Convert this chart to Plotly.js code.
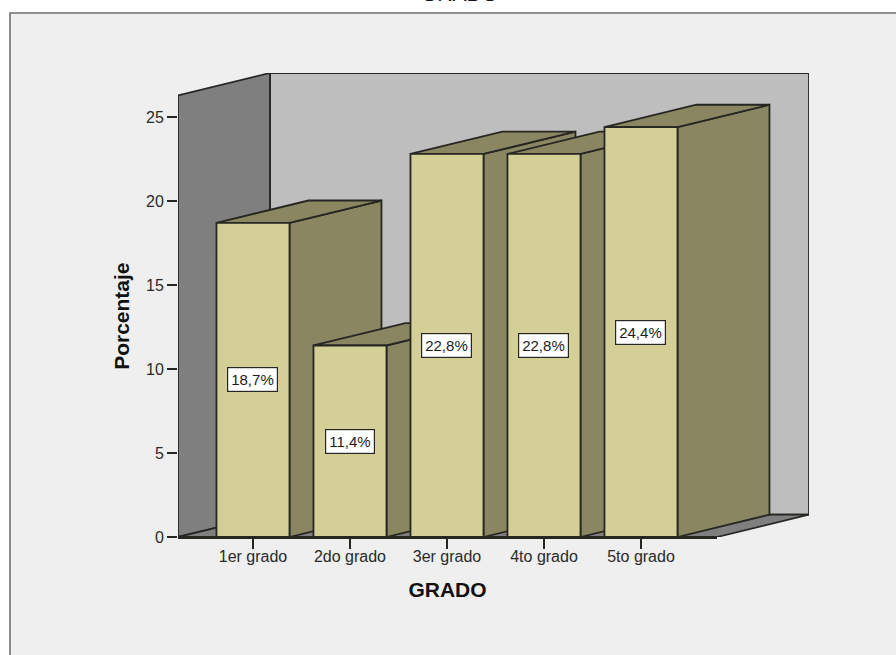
<!DOCTYPE html>
<html>
<head>
<meta charset="utf-8">
<script src="https://cdn.plot.ly/plotly-3.0.1.min.js"></script>
<style>html,body{margin:0;padding:0;background:#fff;overflow:hidden}</style>
</head>
<body>
<div id="chart" style="width:896px;height:655px"></div>
<script>
// Share of students per school grade
const grades = ['1er grado', '2do grado', '3er grado', '4to grado', '5to grado'];
const percentages = [18.7, 11.4, 22.8, 22.8, 24.4];
const yTicks = [0, 5, 10, 15, 20, 25];

// Oblique projection of the box, in axis units of the front plane
const xRange = [-0.773, 4.784];
const yRange = [0, 26.29];
const barWidth = 0.753;
const depthX = 0.948;
const depthY = 1.33;

const FRONT = '#D3CF97', SIDE = '#8A8661', WALL = '#BEBEBE', DARKWALL = '#7F7F7F', EDGE = '#262622';
const FONT = 'Liberation Sans, Arial, sans-serif';
const positions = grades.map((_, i) => i);

function face(xs, ys, fill) {
  return {
    type: 'scatter', mode: 'lines', x: xs.concat(xs[0]), y: ys.concat(ys[0]),
    fill: 'toself', fillcolor: fill, line: {color: EDGE, width: 1.8},
    cliponaxis: false, hoverinfo: 'skip', showlegend: false, xaxis: 'x', yaxis: 'y'
  };
}

const [xLow, xHigh] = xRange;
const wallTop = yRange[1];
const traces = [
  // back wall, left wall and floor
  face([xLow + depthX, xHigh + depthX, xHigh + depthX, xLow + depthX], [depthY, depthY, wallTop + depthY, wallTop + depthY], WALL),
  face([xLow, xLow + depthX, xLow + depthX, xLow], [0, depthY, wallTop + depthY, wallTop], DARKWALL),
  face([xLow, xHigh, xHigh + depthX, xLow + depthX], [0, 0, depthY, depthY], DARKWALL)
];

// Side and top of each bar, painted from left to right
positions.forEach((p, i) => {
  const l = p - barWidth / 2, r = p + barWidth / 2, v = percentages[i];
  traces.push(face([r, r + depthX, r + depthX, r], [0, depthY, v + depthY, v], SIDE));
  traces.push(face([l, l + depthX, r + depthX, r], [v, v + depthY, v + depthY, v], SIDE));
});

// Front faces live on a second subplot, painted after the box and bar sides
traces.push({
  type: 'bar', x: positions, y: percentages, width: barWidth,
  marker: {color: FRONT, line: {color: EDGE, width: 1.8}},
  hoverinfo: 'skip', showlegend: false, xaxis: 'x2', yaxis: 'y2'
});

const plotW = 631, plotH = 464;
const px = v => (v - 178) / plotW, py = v => (537 - v) / plotH;
const tickStyle = {ticks: 'outside', ticklen: 10, tickwidth: 1.6, tickcolor: EDGE, showgrid: false, zeroline: false};
const tickFont = {family: FONT, size: 16, color: '#2a2a2a'};
const titleFont = {family: FONT, size: 21, color: '#111', weight: 'bold'};

const layout = {
  width: 896, height: 655,
  margin: {l: 178, r: 87, t: 73, b: 118},
  paper_bgcolor: '#FFFFFF', plot_bgcolor: 'rgba(0,0,0,0)',
  title: {text: 'GRADO', font: {family: FONT, size: 21, color: '#111'}, x: 459.5 / 896, xanchor: 'center', yref: 'container', y: 0.998, yanchor: 'bottom'},
  // the full box, walls included
  xaxis: {domain: [0, 1], range: [xLow, xHigh + depthX], visible: false, anchor: 'y'},
  yaxis: {domain: [0, 1], range: [0, wallTop + depthY], visible: false, anchor: 'x'},
  // the front plane, carrying the visible axes
  xaxis2: Object.assign({
    domain: [0, (xHigh - xLow) / (xHigh - xLow + depthX)], anchor: 'y2', range: xRange,
    tickmode: 'array', tickvals: positions, ticktext: grades,
    showline: true, linecolor: EDGE, linewidth: 1.8, tickfont: tickFont, ticklabelstandoff: -6,
    title: {text: 'GRADO', standoff: 18, font: titleFont}
  }, tickStyle),
  yaxis2: Object.assign({
    domain: [0, wallTop / (wallTop + depthY)], anchor: 'x2', range: yRange, tickmode: 'array', tickvals: yTicks,
    showline: false, tickfont: tickFont,
    title: {text: 'Porcentaje', standoff: 10, font: titleFont}
  }, tickStyle),
  shapes: [{
    type: 'rect', layer: 'below', xref: 'paper', yref: 'paper',
    x0: px(10), x1: px(1100), y0: py(900), y1: py(13),
    fillcolor: '#EFEFEF', line: {color: '#707070', width: 1.6}
  }],
  annotations: positions.map((p, i) => ({
    x: p, y: percentages[i] / 2, xref: 'x2', yref: 'y2', showarrow: false,
    text: percentages[i].toFixed(1).replace('.', ',') + '%',
    bgcolor: '#FFFFFF', bordercolor: EDGE, borderwidth: 1.2, borderpad: 3,
    font: {family: FONT, size: 15, color: '#1c1c1c'}
  }))
};

Plotly.newPlot('chart', traces, layout, {displayModeBar: false, staticPlot: true});
</script>
</body>
</html>
